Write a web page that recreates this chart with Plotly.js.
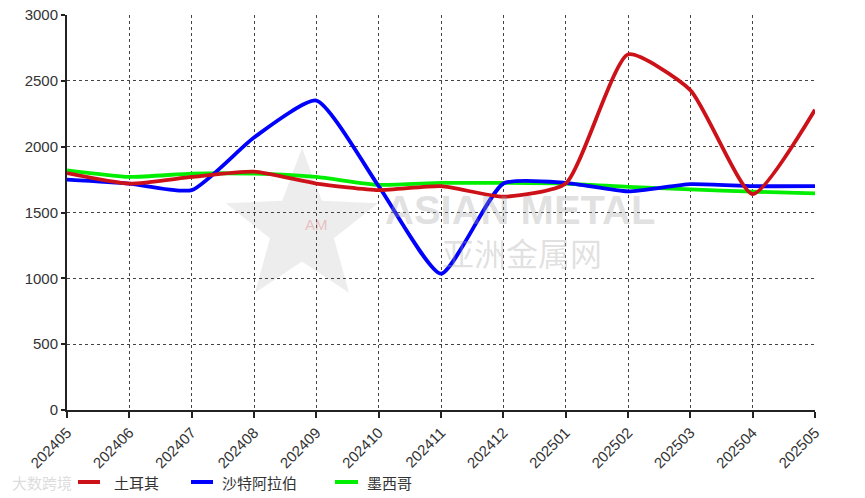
<!DOCTYPE html>
<html><head><meta charset="utf-8">
<script src="https://cdn.plot.ly/plotly-3.0.1.min.js"></script>
<style>html,body{margin:0;padding:0;background:#fff}#c{width:865px;height:498px}</style>
</head><body><div id="c"></div>
<script>
const months = ["202405","202406","202407","202408","202409","202410","202411","202412","202501","202502","202503","202504","202505"];
const turkey = [1800,1720,1770,1810,1720,1670,1700,1620,1720,2700,2430,1640,2280];
const saudi = [1750,1720,1670,2070,2350,1700,1035,1720,1725,1660,1715,1700,1700];
const mexico = [1820,1770,1795,1795,1770,1710,1725,1725,1720,1695,1675,1658,1645];
const names = ["土耳其","沙特阿拉伯","墨西哥"];
const colors = ["#cc1119","#0000ff","#00ee00"];
const series = [turkey, saudi, mexico];

const M = {l:67, r:50, t:15, b:88};
const W = 865-M.l-M.r, H = 498-M.t-M.b;
const px = x => (x-M.l)/W;
const py = y => 1-(y-M.t)/H;

const traces = series.map((s,i)=>({
  x: months, y: s, name: names[i], type:'scatter', mode:'lines', showlegend:false,
  line:{color:colors[i], width:3.8, shape:'spline', smoothing:0.55}
}));
const ordered = [traces[2], traces[1], traces[0]];

// star watermark
const starPts = [];
for(let k=0;k<10;k++){const a=-Math.PI/2+k*Math.PI/5;const r=k%2?0.42:1;starPts.push([r*Math.cos(a),r*Math.sin(a)]);}
const cx=302, cy=228, R=80;
const starPath = 'M'+starPts.map(p=>px(cx+R*p[0]).toFixed(4)+','+py(cy+R*p[1]).toFixed(4)).join(' L')+' Z';

// manual legend (positions in pixels)
const legItems = [{x0:78,x1:100,tx:112},{x0:191,x1:213,tx:220},{x0:335,x1:358,tx:365}];
const legY = 482;
const shapes = [{type:'path', xref:'paper', yref:'paper', path:starPath, fillcolor:'rgba(175,175,175,0.22)', line:{width:0}, layer:'below'}];
const annotations = [
  {xref:'paper', yref:'paper', x:px(520), y:py(210), text:'<b>ASIAN METAL</b>', showarrow:false,
    font:{size:40, color:'rgba(160,160,160,0.33)', family:'Arial, sans-serif'}},
  {xref:'paper', yref:'paper', x:px(522), y:py(252), text:'亚洲金属网', showarrow:false,
    font:{size:32, color:'rgba(160,160,160,0.33)', family:'"Noto Sans CJK SC", sans-serif'}},
  {xref:'paper', yref:'paper', x:px(303), y:py(224), text:'AM', showarrow:false,
    font:{size:15, color:'rgba(220,80,80,0.3)', family:'Arial'}},
  {xref:'paper', yref:'paper', x:px(10), y:py(482), xanchor:'left', yanchor:'middle', text:'大数跨境', showarrow:false,
    font:{size:15, color:'rgba(190,190,190,0.55)', family:'"Noto Sans CJK SC", sans-serif'}}
];
legItems.forEach((it,i)=>{
  shapes.push({type:'line', xref:'paper', yref:'paper', x0:px(it.x0), x1:px(it.x1), y0:py(legY), y1:py(legY),
    line:{color:colors[i], width:4}});
  annotations.push({xref:'paper', yref:'paper', x:px(it.tx), y:py(legY), xanchor:'left', yanchor:'middle',
    text:names[i], showarrow:false, font:{size:15, color:'#333', family:'"Noto Sans CJK SC", sans-serif'}});
});

const layout = {
  width:865, height:498,
  margin:M,
  paper_bgcolor:'#fff', plot_bgcolor:'#fff',
  font:{family:'Arial, "Liberation Sans", "Noto Sans CJK SC", sans-serif', size:15, color:'#333'},
  xaxis:{type:'category', categoryorder:'array', categoryarray:months, range:[0,12], automargin:false,
    showgrid:true, gridcolor:'#444', griddash:'dot', gridwidth:1,
    showline:true, linecolor:'#222', linewidth:2, ticks:'outside', ticklen:6, tickcolor:'#222', tickwidth:2,
    tickangle:-45, tickfont:{size:15, color:'#333'}, zeroline:false},
  yaxis:{range:[0,3000], dtick:500, showgrid:true, gridcolor:'#444', griddash:'dot', gridwidth:1, automargin:false,
    showline:true, linecolor:'#222', linewidth:2, ticks:'outside', ticklen:4, tickcolor:'#222', tickwidth:2,
    tickfont:{size:15, color:'#333'}, zeroline:false},
  showlegend:false,
  shapes: shapes,
  annotations: annotations
};
Plotly.newPlot('c', ordered, layout, {staticPlot:true});
</script></body></html>
